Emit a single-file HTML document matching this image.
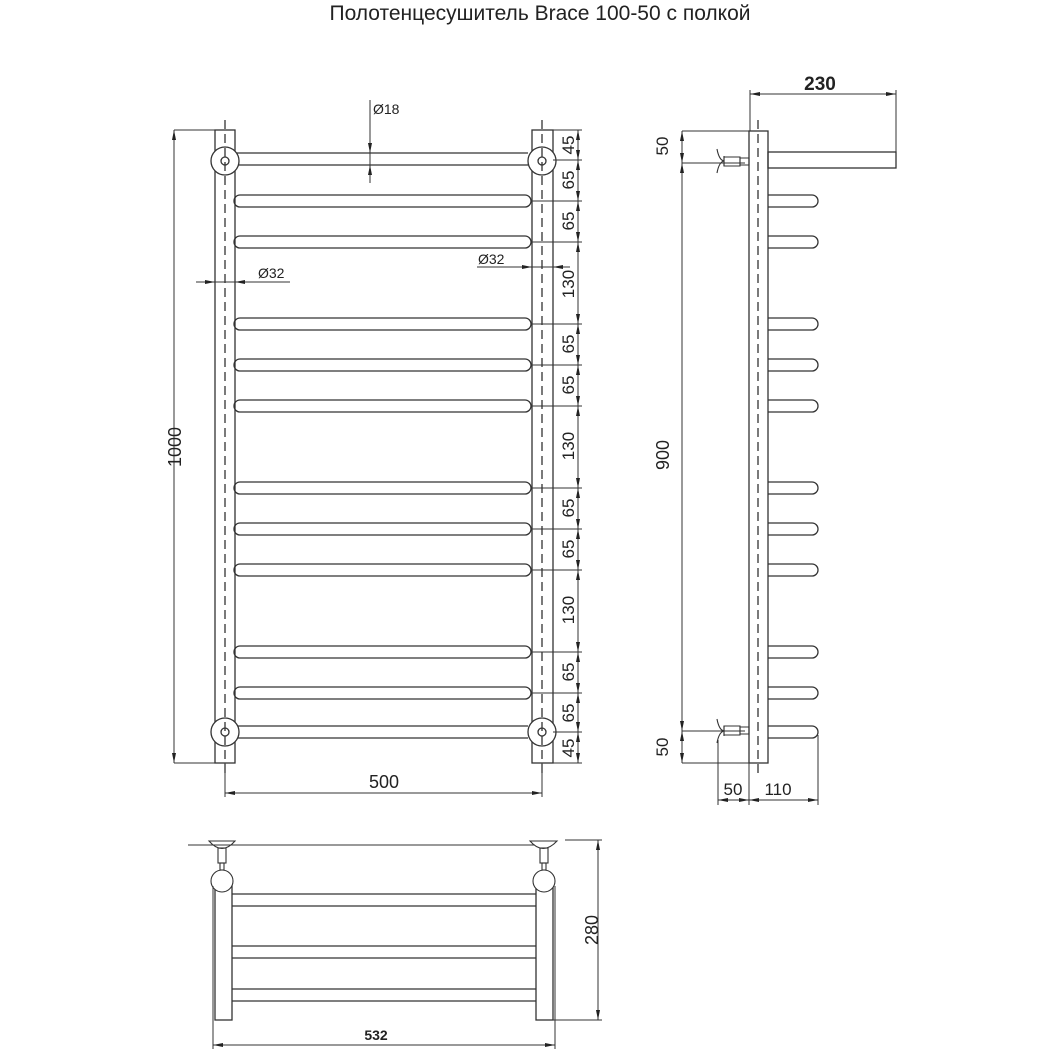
<!DOCTYPE html>
<html><head><meta charset="utf-8"><style>
html,body{margin:0;padding:0;background:#fff}
svg{display:block}
text{font-family:"Liberation Sans",sans-serif;fill:#222}
</style></head><body>
<svg width="1053" height="1053" viewBox="0 0 1053 1053" xmlns="http://www.w3.org/2000/svg">
<defs>
<marker id="a" viewBox="0 0 10 6" refX="10" refY="3" markerWidth="10" markerHeight="6" orient="auto-start-reverse" markerUnits="userSpaceOnUse"><path d="M0,1 L10,3 L0,5z" fill="#222"/></marker>
</defs>
<text x="540" y="20" font-size="21" text-anchor="middle" fill="#333">Полотенцесушитель Brace 100-50 с полкой</text>

<g fill="none" stroke="#333" stroke-width="1.3">
<rect x="215" y="130" width="20" height="633" fill="#fff"/>
<rect x="532" y="130" width="21" height="633" fill="#fff"/>
<path d="M235 153H528M235 165H528"/>
<path d="M235 726H528M235 738H528"/>
<g>
<rect x="234" y="195" width="297" height="12" rx="6"/>
<rect x="234" y="236" width="297" height="12" rx="6"/>
<rect x="234" y="318" width="297" height="12" rx="6"/>
<rect x="234" y="359" width="297" height="12" rx="6"/>
<rect x="234" y="400" width="297" height="12" rx="6"/>
<rect x="234" y="482" width="297" height="12" rx="6"/>
<rect x="234" y="523" width="297" height="12" rx="6"/>
<rect x="234" y="564" width="297" height="12" rx="6"/>
<rect x="234" y="646" width="297" height="12" rx="6"/>
<rect x="234" y="687" width="297" height="12" rx="6"/>
</g>
<circle cx="225" cy="161" r="14" fill="#fff"/><circle cx="225" cy="161" r="4"/>
<circle cx="542" cy="161" r="14" fill="#fff"/><circle cx="542" cy="161" r="4"/>
<circle cx="225" cy="732" r="14" fill="#fff"/><circle cx="225" cy="732" r="4"/>
<circle cx="542" cy="732" r="14" fill="#fff"/><circle cx="542" cy="732" r="4"/>
<path d="M225 120V775M542 120V775" stroke-dasharray="9 5"/>

<path d="M174 130H215M174 763H215" stroke-width="1"/>
<path d="M174 130V763" stroke-width="1" marker-start="url(#a)" marker-end="url(#a)"/>
<path d="M225 763V797M542 763V797" stroke-width="1"/>
<path d="M225 793H542" stroke-width="1" marker-start="url(#a)" marker-end="url(#a)"/>
<path d="M370 100V183" stroke-width="1"/>
<path d="M370 140V153" stroke-width="1" marker-end="url(#a)"/>
<path d="M370 178V165" stroke-width="1" marker-end="url(#a)"/>
<path d="M196 282H290" stroke-width="1"/>
<path d="M200 282H215" stroke-width="1" marker-end="url(#a)"/>
<path d="M250 282H235" stroke-width="1" marker-end="url(#a)"/>
<path d="M477 267H570" stroke-width="1"/>
<path d="M518 267H532" stroke-width="1" marker-end="url(#a)"/>
<path d="M568 267H553" stroke-width="1" marker-end="url(#a)"/>
<path stroke-width="1" d="M553 130H582M553 160H582M531 201H582M531 242H582M531 324H582M531 365H582M531 406H582M531 488H582M531 529H582M531 570H582M531 652H582M531 693H582M553 732H582M553 763H582"/>
<path stroke-width="1" d="M578 130V763"/>
<g stroke-width="1" marker-start="url(#a)" marker-end="url(#a)">
<path d="M578 130V160"/><path d="M578 160V201"/><path d="M578 201V242"/><path d="M578 242V324"/><path d="M578 324V365"/><path d="M578 365V406"/><path d="M578 406V488"/><path d="M578 488V529"/><path d="M578 529V570"/><path d="M578 570V652"/><path d="M578 652V693"/><path d="M578 693V732"/><path d="M578 732V763"/>
</g>

<rect x="749" y="131" width="19" height="632" fill="#fff"/>
<path d="M758 120V775" stroke-dasharray="9 5"/>
<rect x="768" y="152" width="128" height="16"/>
<g>
<path d="M768 195H812A6 6 0 0 1 812 207H768"/>
<path d="M768 236H812A6 6 0 0 1 812 248H768"/>
<path d="M768 318H812A6 6 0 0 1 812 330H768"/>
<path d="M768 359H812A6 6 0 0 1 812 371H768"/>
<path d="M768 400H812A6 6 0 0 1 812 412H768"/>
<path d="M768 482H812A6 6 0 0 1 812 494H768"/>
<path d="M768 523H812A6 6 0 0 1 812 535H768"/>
<path d="M768 564H812A6 6 0 0 1 812 576H768"/>
<path d="M768 646H812A6 6 0 0 1 812 658H768"/>
<path d="M768 687H812A6 6 0 0 1 812 699H768"/>
<path d="M768 726H812A6 6 0 0 1 812 738H768"/>
</g>
<g stroke-width="1.1">
<path d="M717 149Q719 160 724 161Q719 162 717 173M724 156V166"/>
<path d="M724 157H740V166H724Z"/><path d="M740 158H749V165H740Z"/>
<path d="M717 719Q719 730 724 731Q719 732 717 743M724 726V736"/>
<path d="M724 726H740V735H724Z"/><path d="M740 727H749V734H740Z"/>
</g>
<path stroke-width="1" d="M750 90V131M896 90V168"/>
<path stroke-width="1" d="M750 94H896" marker-start="url(#a)" marker-end="url(#a)"/>
<path stroke-width="1" d="M682 131H749M682 163H745M682 731H745M682 763H768"/>
<path stroke-width="1" d="M682 131V763"/>
<g stroke-width="1" marker-start="url(#a)" marker-end="url(#a)">
<path d="M682 131V163"/><path d="M682 163V731"/><path d="M682 731V763"/>
</g>
<path stroke-width="1" d="M718 740V805M749 763V805M818 735V805"/>
<g stroke-width="1" marker-start="url(#a)" marker-end="url(#a)">
<path d="M718 800H749"/><path d="M749 800H818"/>
</g>

<path stroke-width="1.1" d="M188 845H535"/>
<path stroke-width="1" d="M565 840H602"/>
<rect x="215" y="886" width="17" height="134" fill="#fff"/>
<rect x="536" y="886" width="17" height="134" fill="#fff"/>
<path d="M232 894H536M232 906H536M232 946H536M232 958H536M232 989H536M232 1001H536"/>
<g stroke-width="1.1">
<path d="M209 841Q222 856 235 841Z"/><rect x="218" y="848" width="8" height="15"/><rect x="220" y="863" width="4" height="7"/>
<circle cx="222" cy="881" r="11" fill="#fff"/>
<path d="M530 841Q543 856 557 841Z"/><rect x="540" y="848" width="8" height="15"/><rect x="542" y="863" width="4" height="7"/>
<circle cx="544" cy="881" r="11" fill="#fff"/>
</g>
<path stroke-width="1" d="M553 1020H602"/>
<path stroke-width="1" d="M598 840V1020" marker-start="url(#a)" marker-end="url(#a)"/>
<path stroke-width="1" d="M213 886V1049M555 886V1049"/>
<path stroke-width="1" d="M213 1045H555" marker-start="url(#a)" marker-end="url(#a)"/>
</g>

<g font-size="17">
<text x="384" y="788" text-anchor="middle" font-size="18">500</text>
<text transform="translate(181,447) rotate(-90)" text-anchor="middle" font-size="18">1000</text>
<text x="373" y="114" font-size="14">Ø18</text>
<text x="258" y="278" font-size="14">Ø32</text>
<text x="478" y="264" font-size="14">Ø32</text>
<g font-size="17" text-anchor="middle">
<text transform="translate(574,145) rotate(-90)">45</text>
<text transform="translate(574,180) rotate(-90)">65</text>
<text transform="translate(574,221) rotate(-90)">65</text>
<text transform="translate(574,284) rotate(-90)">130</text>
<text transform="translate(574,344) rotate(-90)">65</text>
<text transform="translate(574,385) rotate(-90)">65</text>
<text transform="translate(574,446) rotate(-90)">130</text>
<text transform="translate(574,508) rotate(-90)">65</text>
<text transform="translate(574,549) rotate(-90)">65</text>
<text transform="translate(574,610) rotate(-90)">130</text>
<text transform="translate(574,672) rotate(-90)">65</text>
<text transform="translate(574,713) rotate(-90)">65</text>
<text transform="translate(574,748) rotate(-90)">45</text>
<text transform="translate(668,146) rotate(-90)">50</text>
<text transform="translate(669,455) rotate(-90)" font-size="18">900</text>
<text transform="translate(668,747) rotate(-90)">50</text>
<text transform="translate(598,930) rotate(-90)" font-size="18">280</text>
</g>
<text x="733" y="795" text-anchor="middle">50</text>
<text x="778" y="795" text-anchor="middle">110</text>
<text x="820" y="90" text-anchor="middle" font-weight="bold" font-size="19">230</text>
<text x="376" y="1040" text-anchor="middle" font-weight="bold" font-size="14">532</text>
</g>
</svg>
</body></html>
